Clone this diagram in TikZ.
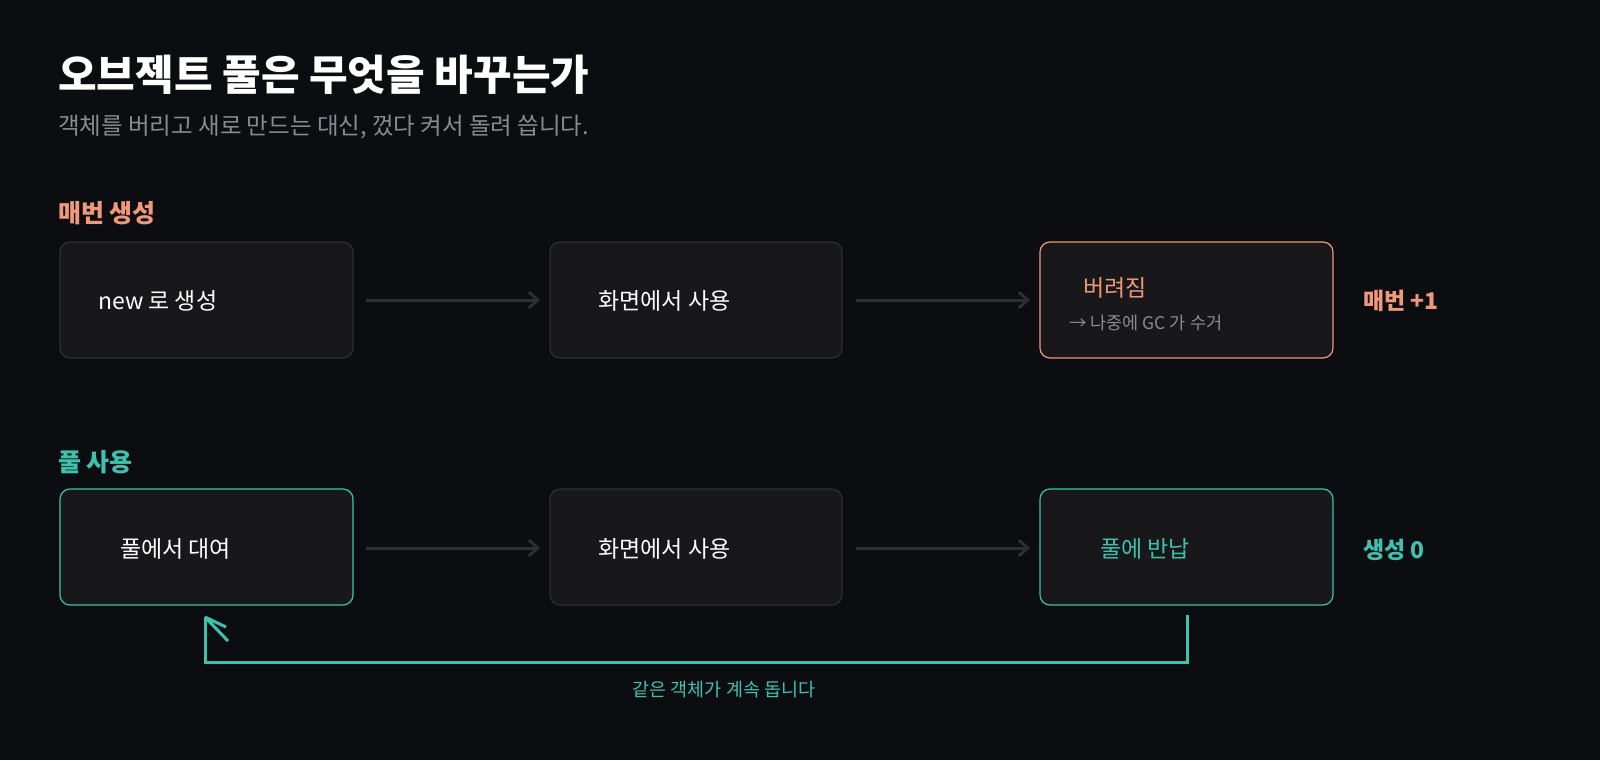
\documentclass[tikz,border=0pt]{standalone}
\usepackage{fontspec}
\setmainfont{Noto Sans CJK KR}
\usetikzlibrary{arrows.meta}
\definecolor{bg}{HTML}{0C0D10}
\definecolor{boxf}{HTML}{18181B}
\definecolor{boxd}{HTML}{2E2E33}
\definecolor{sal}{HTML}{F0987A}
\definecolor{tea}{HTML}{3EC1AE}
\definecolor{gry}{HTML}{8A8A90}
\definecolor{arr}{HTML}{2F2F33}
\begin{document}
\begin{tikzpicture}[x=1pt,y=-1pt,
 box/.style={draw=boxd,fill=boxf,line width=1.2pt,rounded corners=10pt},
 lbl/.style={anchor=west,font=\fontsize{23}{27}\selectfont,text=white,inner sep=0},
 flow/.style={draw=arr,line width=3pt,-{Straight Barb[length=9pt,width=16pt]}}]
\fill[bg] (0,0) rectangle (1600,760);
\useasboundingbox (0,0) rectangle (1600,760);
\node[anchor=west,inner sep=0,text=white,font=\fontsize{42}{46}\selectfont\bfseries] (t) at (58,75) {오브젝트 풀은 무엇을 바꾸는가};
\node[anchor=west,inner sep=0,text=gry,font=\fontsize{23.5}{28}\selectfont] (st) at (58,127) {객체를 버리고 새로 만드는 대신, 껐다 켜서 돌려 씁니다.};
\node[anchor=west,inner sep=0,text=sal,font=\fontsize{25}{29}\selectfont\bfseries] (s1) at (58,213) {매번 생성};
\node[anchor=west,inner sep=0,text=tea,font=\fontsize{25}{29}\selectfont\bfseries] (s2) at (58,462) {풀 사용};
% row 1
\draw[box] (60,242) rectangle (353,358);
\draw[box] (550,242) rectangle (842,358);
\draw[box,draw=sal] (1040,242) rectangle (1333,358);
\node[lbl] (n1) at (98,301) {new 로 생성};
\node[lbl] (n2) at (598,301) {화면에서 사용};
\node[lbl,text=sal] (n3) at (1083,288) {버려짐};
\node[lbl,text=gry,font=\fontsize{17.5}{20}\selectfont] (n3b) at (1069,323) {→ 나중에 GC 가 수거};
\node[anchor=west,inner sep=0,text=sal,font=\fontsize{23}{27}\selectfont\bfseries] (r1) at (1363,301) {매번 +1};
\coordinate (p1) at (366,300); \coordinate (q1) at (540,300);
\coordinate (p2) at (856,300); \coordinate (q2) at (1030,300);
\draw[flow] (p1) -- (q1); \draw[flow] (p2) -- (q2);
% row 2
\draw[box,draw=tea] (60,489) rectangle (353,605);
\draw[box] (550,489) rectangle (842,605);
\draw[box,draw=tea] (1040,489) rectangle (1333,605);
\node[lbl] (m1) at (120,549) {풀에서 대여};
\node[lbl] (m2) at (598,549) {화면에서 사용};
\node[lbl,text=tea] (m3) at (1100,549) {풀에 반납};
\node[anchor=west,inner sep=0,text=tea,font=\fontsize{23}{27}\selectfont\bfseries] (r2) at (1363,550) {생성 0};
\coordinate (p3) at (366,548); \coordinate (q3) at (540,548);
\coordinate (p4) at (856,548); \coordinate (q4) at (1030,548);
\draw[flow] (p3) -- (q3); \draw[flow] (p4) -- (q4);
\coordinate (ra) at (1187,615); \coordinate (rb) at (1187,662);
\coordinate (rc) at (205,662); \coordinate (rd) at (205,617);
\draw[tea,line width=3pt] (ra) -- (rb) -- (rc) -- (rd);
\draw[tea,line width=3pt] (rd) -- (228,641) (rd) -- (226,627);
\node[inner sep=0,text=tea,font=\fontsize{18.5}{22}\selectfont] (lp) at (724,690) {같은 객체가 계속 돕니다};
\end{tikzpicture}
\end{document}
